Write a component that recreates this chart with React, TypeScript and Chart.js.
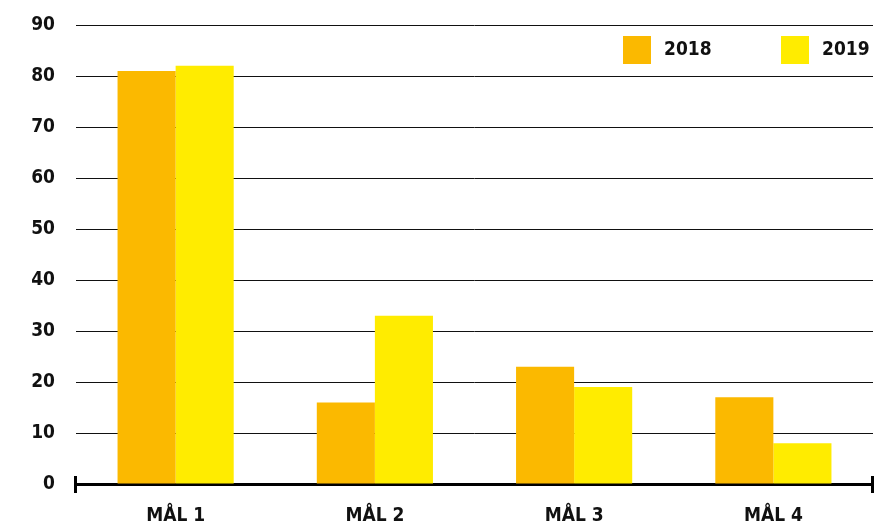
import React, { useEffect, useRef } from "react";
import { Chart, registerables } from "chart.js";

Chart.register(...registerables);

const categories = ["MÅL 1", "MÅL 2", "MÅL 3", "MÅL 4"];
const seriesNames = ["2018", "2019"];
const values2018 = [81, 16, 23, 17];
const values2019 = [82, 33, 19, 8];
const colors = ["#FBB900", "#FFEC00"];
const yTicksMax = 90;
const yStep = 10;

const FONT = "'DejaVu Sans Condensed', 'DejaVu Sans', sans-serif";
const FSIZE = 19;

const legendPlugin = {
  id: "customLegend",
  afterDraw(chart: any) {
    const { ctx, chartArea } = chart;
    const right = chartArea.right;
    const top = chartArea.top;
    const items = [
      { x: right - 250, label: seriesNames[0], color: colors[0] },
      { x: right - 92, label: seriesNames[1], color: colors[1] },
    ];
    ctx.save();
    ctx.font = `bold ${FSIZE}px ${FONT}`;
    ctx.textBaseline = "middle";
    ctx.textAlign = "left";
    for (const it of items) {
      ctx.fillStyle = it.color;
      ctx.fillRect(it.x, top + 11, 28, 28);
      ctx.fillStyle = "#111";
      ctx.fillText(it.label, it.x + 41, top + 25);
    }
    ctx.restore();
  },
};

const axisEndsPlugin = {
  id: "axisEnds",
  afterDraw(chart: any) {
    const { ctx, chartArea } = chart;
    const y = chartArea.bottom;
    ctx.save();
    ctx.strokeStyle = "#000";
    ctx.lineWidth = 3;
    ctx.beginPath();
    ctx.moveTo(chartArea.left - 0.5, y - 8);
    ctx.lineTo(chartArea.left - 0.5, y + 9);
    ctx.moveTo(chartArea.right - 0.5, y - 8);
    ctx.lineTo(chartArea.right - 0.5, y + 9);
    ctx.stroke();
    ctx.restore();
  },
};

export default function App() {
  const ref = useRef<HTMLCanvasElement | null>(null);
  useEffect(() => {
    document.body.style.margin = "0";
    const chart = new Chart(ref.current as HTMLCanvasElement, {
      type: "bar",
      data: {
        labels: categories,
        datasets: [
          {
            label: seriesNames[0],
            data: values2018,
            backgroundColor: colors[0],
            borderWidth: 0,
            barPercentage: 1,
            categoryPercentage: 0.583,
          },
          {
            label: seriesNames[1],
            data: values2019,
            backgroundColor: colors[1],
            borderWidth: 0,
            barPercentage: 1,
            categoryPercentage: 0.583,
          },
        ],
      },
      options: {
        animation: false,
        responsive: false,
        maintainAspectRatio: false,
        layout: { padding: { top: 25, right: 4, left: 0, bottom: 0 } },
        plugins: {
          legend: { display: false },
          tooltip: { enabled: false },
        },
        scales: {
          x: {
            grid: { display: false, drawTicks: false },
            border: { display: true, color: "#000", width: 3 },
            ticks: {
              color: "#111",
              padding: 21,
              font: { family: FONT, size: FSIZE, weight: "bold" },
            },
            afterFit(scale: any) {
              scale.height = 42;
              scale.paddingLeft = 0;
              scale.paddingRight = 0;
            },
          },
          y: {
            z: 1,
            min: 0,
            max: yTicksMax,
            grid: { color: "#111", lineWidth: 1, drawTicks: false },
            border: { display: false },
            ticks: {
              stepSize: yStep,
              color: "#111",
              padding: 21,
              font: { family: FONT, size: FSIZE, weight: "bold" },
            },
            afterFit(scale: any) {
              scale.width = 76;
              scale.paddingTop = 0;
              scale.paddingBottom = 0;
            },
          },
        },
      },
      plugins: [legendPlugin, axisEndsPlugin],
    });
    return () => chart.destroy();
  }, []);
  return (
    <div style={{ position: "absolute", left: 0, top: 0, width: 877, height: 526 }}>
      <canvas ref={ref} width={877} height={526} />
    </div>
  );
}
